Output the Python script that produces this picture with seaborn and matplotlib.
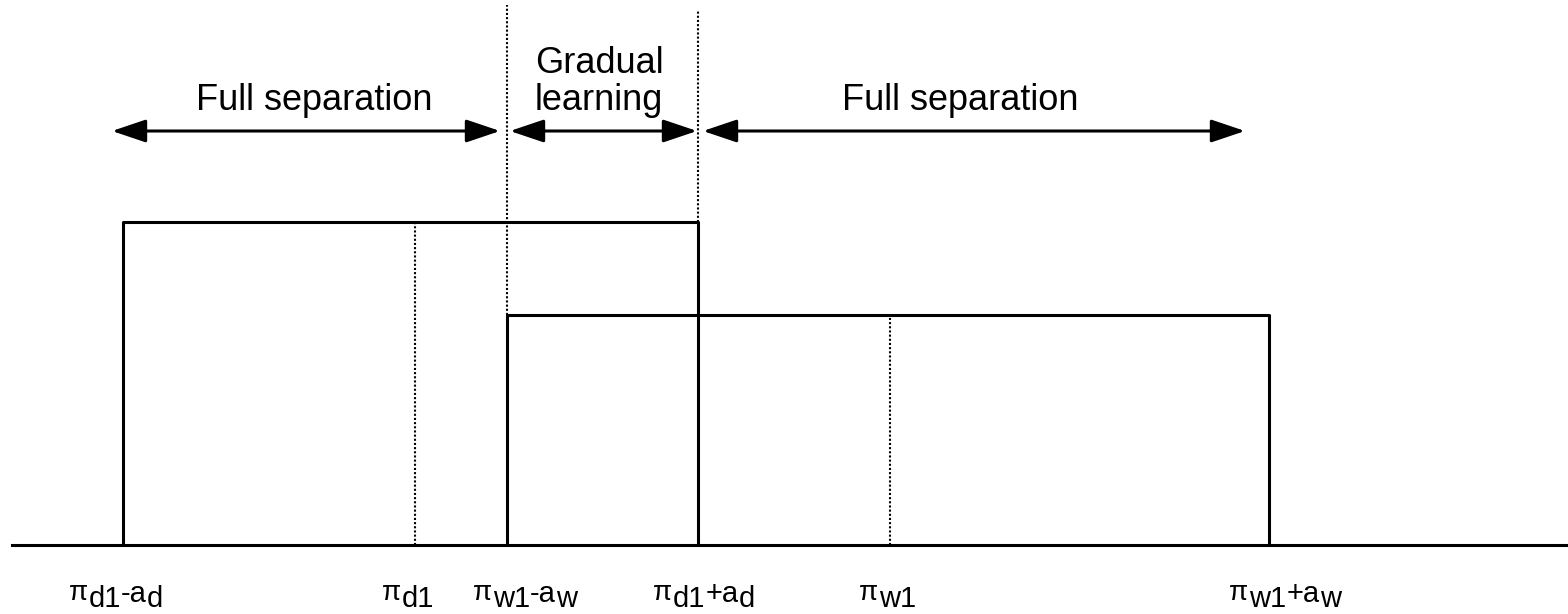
import matplotlib
matplotlib.use("Agg")
import matplotlib.pyplot as plt
from matplotlib.transforms import offset_copy
import pandas as pd
import seaborn as sns

# Positions along the axis (pixel-like units) and heights of the two uniform densities
edge_names = ["d1_lo", "d1", "w1_lo", "d1_hi", "w1", "w1_hi"]
edge_pos = [123, 415, 507, 698, 890, 1269]
# tick labels as alternating (raised, subscript) pieces
tick_labels = [("π", "d1", "-a", "d"), ("π", "d1"), ("π", "w1", "-a", "w"),
               ("π", "d1", "+a", "d"), ("π", "w1"), ("π", "w1", "+a", "w")]
height_d = 323
height_w = 230
region_labels = ["Full separation", "Gradual\nlearning", "Full separation"]

sns.set_style("white")
plt.rcParams["font.family"] = ["Liberation Sans", "DejaVu Sans"]
plt.rcParams["text.color"] = "black"

e = dict(zip(edge_names, edge_pos))

# rectangle outlines built from the edges and heights
rects = pd.DataFrame({
    "x": [e["d1_lo"], e["d1_lo"], e["d1_hi"], e["d1_hi"],
          e["w1_lo"], e["w1_lo"], e["w1_hi"], e["w1_hi"]],
    "y": [0, height_d, height_d, 0, 0, height_w, height_w, 0],
    "dist": ["d"] * 4 + ["w"] * 4,
})

fig = plt.figure(figsize=(15.68, 6.14), dpi=100)
ax = fig.add_axes([12 / 1568, 69 / 614, 1 - 12 / 1568, 545 / 614])

sns.lineplot(data=rects, x="x", y="y", units="dist", estimator=None, sort=False,
             color="black", linewidth=2.2, ax=ax)

# dotted guide lines
dot = dict(color="black", linestyle=(0, (1, 1)), linewidth=1.5)
ax.vlines(e["d1"], 0, height_d, **dot)
ax.vlines(e["w1"], 0, height_w, **dot)
ax.vlines(e["w1_lo"], height_w, 540, **dot)
ax.vlines(e["d1_hi"], height_d, 535, **dot)

# double headed arrows for the regions
arrow_y = 414
spans = [(112, 500), (510, 697), (703, 1245)]
for x0, x1 in spans:
    ax.annotate("", xy=(x1, arrow_y), xytext=(x0, arrow_y),
                arrowprops=dict(arrowstyle="<|-|>,head_length=0.8,head_width=0.27",
                                mutation_scale=26, color="black", lw=2.2,
                                shrinkA=0, shrinkB=0))

# region captions, one text per line
text_x = [314, 599, 960]
for cx, lab in zip(text_x, region_labels):
    lines = lab.split("\n")
    for i, line in enumerate(lines):
        ax.text(cx, 435 + 37 * (len(lines) - 1 - i), line, ha="center",
                va="baseline", fontsize=26)

ax.set_xlim(12, 1568)
ax.set_ylim(0, 545)
ax.set_xticks([])
ax.set_yticks([])
ax.set_xlabel("")
ax.set_ylabel("")
for s in ["left", "top", "right"]:
    ax.spines[s].set_visible(False)
ax.spines["bottom"].set_color("black")
ax.spines["bottom"].set_linewidth(2.2)

# axis labels under the edges: pieces laid out side by side,
# main parts raised, subscripts on the baseline
renderer = fig.canvas.get_renderer()
base = ax.get_xaxis_transform()
nudge = [-7, -7, 18, 6, -2, 16]
rise = {0: 7, 2: 5}
for xpos, pieces, dx in zip(edge_pos, tick_labels, nudge):
    widths = []
    for p in pieces:
        t = ax.text(0, 0, p, fontsize=21)
        widths.append(t.get_window_extent(renderer).width)
        t.remove()
    cur = dx - sum(widths) / 2
    for i, (p, w) in enumerate(zip(pieces, widths)):
        r = rise.get(i, 0)
        tr = offset_copy(base, fig=fig, x=cur, y=-62 + r, units="dots")
        ax.text(xpos, 0, p, transform=tr, ha="left", va="baseline",
                fontsize=20 if p == "π" else 21, clip_on=False)
        cur += w

fig.savefig("out.png", dpi=100)
